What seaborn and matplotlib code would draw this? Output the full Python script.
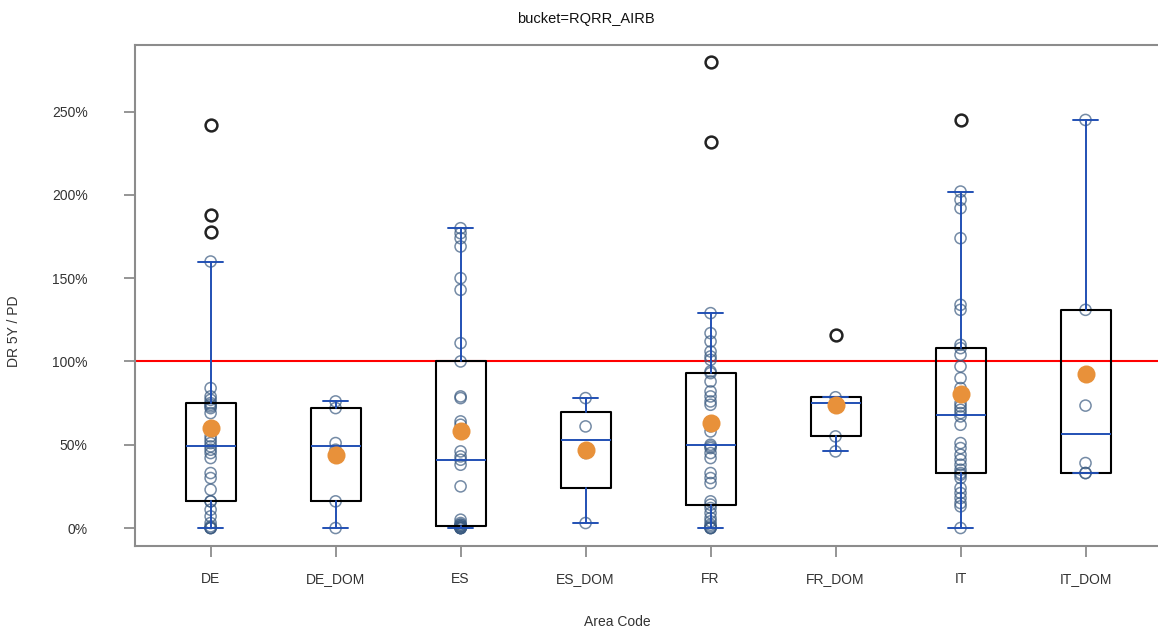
import numpy as np
import pandas as pd
import matplotlib
matplotlib.use('Agg')
import matplotlib.pyplot as plt
import seaborn as sns

# values (DR 5Y / PD, in percent)
areas = ['DE', 'DE_DOM', 'ES', 'ES_DOM', 'FR', 'FR_DOM', 'IT', 'IT_DOM']
de = [0, 0, 0, 1, 3, 7, 11, 16, 16, 23, 30, 33, 42, 45, 47, 49, 51, 53, 55,
      69, 72, 73, 74, 75, 77, 79, 84, 160, 178, 188, 242]
de_dom = [0, 16, 47, 51, 72, 76]
es = [0, 0, 0, 0, 0, 1, 1, 1, 2, 2, 3, 5, 25, 38, 41, 43, 46, 62, 64, 78, 79,
      100, 111, 143, 150, 169, 174, 177, 180]
es_dom = [3, 45, 61, 78]
fr = [0, 0, 0, 1, 2, 4, 6, 9, 12, 14, 16, 27, 30, 33, 42, 45, 48, 49, 50, 58,
      61, 64, 74, 76, 79, 82, 88, 93, 94, 101, 103, 106, 112, 117, 129, 232, 280]
fr_dom = [46, 55, 75, 78.5, 116]
it = [0, 13, 15, 18, 21, 24, 30, 32, 33, 35, 38, 41, 44, 48, 51, 62, 67, 69,
      71, 73, 75, 84, 90, 97, 104, 108, 110, 131, 134, 174, 192, 197, 202, 245]
it_dom = [33, 33, 39, 73.5, 131, 245]
groups = [de, de_dom, es, es_dom, fr, fr_dom, it, it_dom]

BLUE = '#2150b4'
ORANGE = '#e8913a'
GREY = '#8c8c8c'


def box_stats(vals, label):
    # SAS style quartiles (definition 5), whiskers at 1.5 IQR
    v = np.sort(np.asarray(vals, dtype=float))
    q1, med, q3 = np.quantile(v, [0.25, 0.5, 0.75], method='averaged_inverted_cdf')
    iqr = q3 - q1
    lo = v[v >= q1 - 1.5 * iqr].min()
    hi = v[v <= q3 + 1.5 * iqr].max()
    fl = v[(v < lo) | (v > hi)]
    return dict(label=label, q1=q1, med=med, q3=q3, whislo=lo, whishi=hi, fliers=fl)


stats = [box_stats(g, a) for g, a in zip(groups, areas)]

rows = []
for a, g, s in zip(areas, groups, stats):
    for v in g:
        rows.append({'area': a, 'value': v,
                     'outlier': v < s['whislo'] or v > s['whishi']})
df = pd.DataFrame(rows)

sns.set_style('ticks')
plt.rcParams['font.family'] = ['Liberation Sans', 'DejaVu Sans']

fig = plt.figure(figsize=(11.58, 6.34), dpi=100)
ax = fig.add_axes([135 / 1158, 88 / 634, 1023 / 1158, 501 / 634])

ax.axhline(100, color='red', lw=1.5, zorder=1)

# all non-outlier observations as open circles
sns.stripplot(data=df[~df['outlier']], x='area', y='value', order=areas,
              jitter=False, size=8, color='#3a5a80', edgecolor='#3a5a80',
              linewidth=1.1, alpha=0.7, zorder=2, ax=ax)
for c in ax.collections:
    c.set_facecolor('none')

ax.bxp(stats, positions=np.arange(len(areas)), widths=0.4, capwidths=0.2,
       boxprops=dict(color='black', lw=1.5),
       whiskerprops=dict(color=BLUE, lw=1.4),
       capprops=dict(color=BLUE, lw=1.4),
       medianprops=dict(color=BLUE, lw=1.4),
       flierprops=dict(marker='o', mfc='none', mec='#222222', mew=1.8, ms=8.5),
       manage_ticks=False, zorder=3)

# means as orange dots
sns.pointplot(data=df, x='area', y='value', order=areas, estimator='mean',
              errorbar=None, color=ORANGE, marker='o', linestyle='none',
              markersize=13, markeredgewidth=0, zorder=5, ax=ax)

ax.set_xlim(-0.605, 7.58)
ax.set_ylim(-10.8, 290)
yt = [0, 50, 100, 150, 200, 250]
ax.set_yticks(yt)
ax.set_yticklabels([f'{t}%' for t in yt])
ax.set_xticks(np.arange(len(areas)))
ax.set_xticklabels(areas)

ax.tick_params(axis='y', length=8, width=1.3, color=GREY, pad=26,
               labelsize=10, labelcolor='#333333')
ax.tick_params(axis='x', length=8, width=1.3, color=GREY, pad=11,
               labelsize=10, labelcolor='#333333')
for side in ['left', 'bottom', 'top']:
    ax.spines[side].set_color(GREY)
    ax.spines[side].set_linewidth(1.5)
ax.spines['right'].set_visible(False)

ax.set_xlabel('Area Code', fontsize=10, color='#333333')
ax.xaxis.set_label_coords(0.471, -0.138)
ax.set_ylabel('DR 5Y / PD', fontsize=10, color='#333333')
ax.yaxis.set_label_coords(-0.111, 0.429)
fig.text(0.506, 0.97, 'bucket=RQRR_AIRB', ha='center', va='center',
         fontsize=10.5, color='#111111')

fig.savefig('out.png', dpi=100)
